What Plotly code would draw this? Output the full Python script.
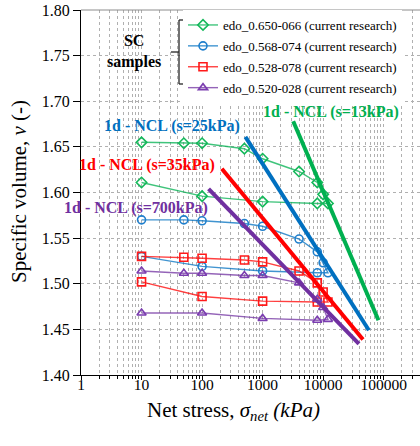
import plotly.graph_objects as go

# Oedometer (edo) test paths: loading up to ~12 MPa, then unloading
stress_path = [10, 50, 100, 500, 1000, 4000, 8000, 10000, 12000, 8000, 1000, 100, 10]

v_650_066 = [1.655, 1.654, 1.654, 1.648, 1.637, 1.623, 1.611, 1.598, 1.588,
             1.588, 1.590, 1.596, 1.611]
v_568_074 = [1.570, 1.570, 1.569, 1.566, 1.563, 1.549, 1.535, 1.523, 1.512,
             1.512, 1.514, 1.519, 1.530]
v_528_078 = [1.530, 1.529, 1.528, 1.526, 1.524, 1.514, 1.501, 1.491, 1.480,
             1.480, 1.481, 1.486, 1.502]
v_520_028 = [1.514, 1.5115, 1.5115, 1.509, 1.509, 1.501, 1.483, 1.474, 1.461,
             1.460, 1.462, 1.468, 1.468]

series_names = [
    "edo_0.650-066 (current research)",
    "edo_0.568-074 (current research)",
    "edo_0.528-078 (current research)",
    "edo_0.520-028 (current research)",
]

# One-dimensional normal compression lines (start / end points)
ncl_labels = ["1d - NCL (s=13kPa)", "1d - NCL (s=25kPa)",
              "1d - NCL (s=35kPa)", "1d - NCL (s=700kPa)"]
ncl_stress = [[3200, 82000], [520, 57000], [212, 45500], [128, 39000]]
ncl_v = [[1.678, 1.460], [1.661, 1.449], [1.626, 1.439], [1.604, 1.434]]

x_tick_vals = [1, 10, 100, 1000, 10000, 100000]
x_tick_text = ["1", "10", "100", "1000", "10000", "100000"]
x_minor_vals = [m * 10 ** d for d in range(0, 6) for m in range(2, 10)]

W, H = 420, 446
ML, MR, MT, MB = 81, 0, 10, 71
PW, PH = W - ML - MR, H - MT - MB


def px(x):
    return (x - ML) / PW


def py(y):
    return (H - MB - y) / PH


FONT = "Liberation Serif, Times New Roman, serif"
green, blue, red, purple = "#00B050", "#0070C0", "#FF0000", "#7030A0"
line_cols = ["rgba(0,176,80,0.75)", "rgba(0,112,192,0.75)",
             "rgba(255,0,0,0.75)", "rgba(112,48,160,0.75)"]
mark_cols = ["#14B85A", "#1F7FCC", "#FF1A1A", "#7B3DB0"]
symbols = ["diamond-open", "circle-open", "square-open", "triangle-up-open"]

fig = go.Figure()

for i, v in enumerate([v_650_066, v_568_074, v_528_078, v_520_028]):
    fig.add_trace(go.Scatter(
        x=stress_path, y=v, mode="lines+markers", name=series_names[i],
        legendgroup=f"g{i}",
        line=dict(color=line_cols[i], width=1.4),
        marker=dict(symbol=symbols[i], size=8, color=mark_cols[i],
                    line=dict(width=1.6, color=mark_cols[i])),
    ))

ncl_cols = [green, blue, red, purple]
for i in range(4):
    fig.add_trace(go.Scatter(
        x=ncl_stress[i], y=ncl_v[i], mode="lines", showlegend=False,
        line=dict(color=ncl_cols[i], width=4),
    ))

# NCL labels
label_pos = [(331, 112), (172, 126), (147, 165), (136, 208)]
for i, (lx, ly) in enumerate(label_pos):
    fig.add_annotation(x=px(lx), y=py(ly), xref="paper", yref="paper",
                       text=f"<b>{ncl_labels[i]}</b>", showarrow=False,
                       font=dict(family=FONT, size=16, color=ncl_cols[i]),
                       xanchor="center", yanchor="middle")

# "SC samples" group label with bracket
fig.add_annotation(x=px(134), y=py(52), xref="paper", yref="paper",
                   text="<b>SC</b><br><b>samples</b>", showarrow=False,
                   font=dict(family=FONT, size=16, color="black"),
                   xanchor="center", yanchor="middle", align="center")
bracket = [
    (179, 20, 179, 84),
    (179, 20, 185, 20),
    (179, 84, 185, 84),
    (171, 52, 179, 52),
]
for x0, y0, x1, y1 in bracket:
    fig.add_shape(type="line", xref="paper", yref="paper",
                  x0=px(x0), y0=py(y0), x1=px(x1), y1=py(y1),
                  line=dict(color="#262626", width=1.3))

# top frame line
fig.add_shape(type="line", xref="paper", yref="paper", x0=0, x1=1, y0=1, y1=1,
              line=dict(color="#8c8c8c", width=1))

# axis titles
fig.add_annotation(x=px(233), y=py(411), xref="paper", yref="paper",
                   text="Net stress, <i>σ<sub>net</sub> (kPa)</i>", showarrow=False,
                   font=dict(family=FONT, size=21, color="black"),
                   xanchor="center", yanchor="middle")
fig.add_annotation(x=px(19), y=py(192), xref="paper", yref="paper",
                   text="Specific volume, <i>v</i> (-)", showarrow=False, textangle=-90,
                   font=dict(family=FONT, size=21, color="black"),
                   xanchor="center", yanchor="middle")

grid_col = "#b0b0b0"
fig.update_xaxes(
    type="log", range=[0, 5.6],
    tickvals=x_tick_vals, ticktext=x_tick_text,
    ticks="outside", ticklen=4, tickcolor="black",
    ticklabelstandoff=-9,
    showline=True, linecolor="black", linewidth=1,
    showgrid=True, gridcolor=grid_col, griddash="dot", gridwidth=1,
    minor=dict(tickvals=x_minor_vals, ticks="outside", ticklen=3, tickcolor="black",
               showgrid=True, gridcolor=grid_col, griddash="dot", gridwidth=1),
    tickfont=dict(family=FONT, size=15.5, color="black"),
    zeroline=False,
)
fig.update_yaxes(
    range=[1.40, 1.80], dtick=0.05, tickformat=".2f",
    ticks="outside", ticklen=7, tickcolor="black",
    showline=True, linecolor="black", linewidth=1,
    showgrid=True, gridcolor=grid_col, griddash="dot", gridwidth=1,
    tickfont=dict(family=FONT, size=16, color="black"),
    zeroline=False,
)

fig.update_layout(
    width=W, height=H,
    margin=dict(l=ML, r=MR, t=MT, b=MB, pad=0),
    paper_bgcolor="white", plot_bgcolor="white",
    showlegend=True,
    legend=dict(x=px(183), y=py(10), xanchor="left", yanchor="top",
                bgcolor="white", borderwidth=0,
                font=dict(family=FONT, size=13, color="black"),
                tracegroupgap=1, itemwidth=30),
)

fig.write_html("out.html")
